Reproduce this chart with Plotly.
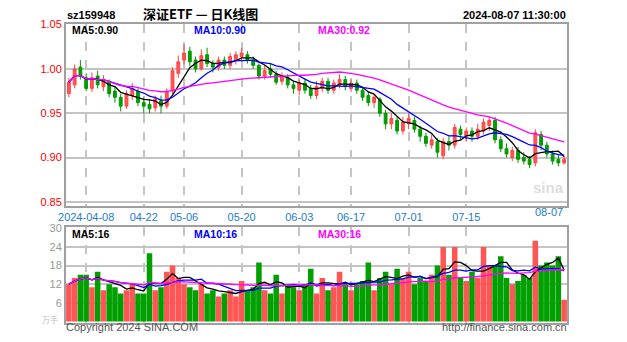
import plotly.graph_objects as go
import pandas as pd

dates = ["2024-04-01","2024-04-02","2024-04-03","2024-04-08","2024-04-09","2024-04-10","2024-04-11","2024-04-12",
         "2024-04-15","2024-04-16","2024-04-17","2024-04-18","2024-04-19","2024-04-22","2024-04-23","2024-04-24",
         "2024-04-25","2024-04-26","2024-04-29","2024-04-30","2024-05-06","2024-05-07","2024-05-08","2024-05-09",
         "2024-05-10","2024-05-13","2024-05-14","2024-05-15","2024-05-16","2024-05-17","2024-05-20","2024-05-21",
         "2024-05-22","2024-05-23","2024-05-24","2024-05-27","2024-05-28","2024-05-29","2024-05-30","2024-05-31",
         "2024-06-03","2024-06-04","2024-06-05","2024-06-06","2024-06-07","2024-06-11","2024-06-12","2024-06-13",
         "2024-06-14","2024-06-17","2024-06-18","2024-06-19","2024-06-20","2024-06-21","2024-06-24","2024-06-25",
         "2024-06-26","2024-06-27","2024-06-28","2024-07-01","2024-07-02","2024-07-03","2024-07-04","2024-07-05",
         "2024-07-08","2024-07-09","2024-07-10","2024-07-11","2024-07-12","2024-07-15","2024-07-16","2024-07-17",
         "2024-07-18","2024-07-19","2024-07-22","2024-07-23","2024-07-24","2024-07-25","2024-07-26","2024-07-29",
         "2024-07-30","2024-07-31","2024-08-01","2024-08-02","2024-08-05","2024-08-06","2024-08-07"]

opens = [0.972,0.982,1.002,0.990,0.978,0.992,0.980,0.985,0.975,0.968,0.958,0.970,0.975,0.962,0.960,0.956,
         0.964,0.958,0.975,0.995,1.010,1.020,1.010,1.000,1.016,1.006,1.002,1.010,1.004,1.010,1.014,1.016,
         1.010,1.004,0.992,1.000,0.994,0.986,0.990,0.982,0.976,0.984,0.978,0.970,0.978,0.986,0.976,0.982,
         0.988,0.978,0.984,0.976,0.970,0.962,0.966,0.950,0.938,0.942,0.930,0.938,0.942,0.932,0.924,0.914,
         0.918,0.902,0.918,0.914,0.932,0.924,0.930,0.924,0.930,0.936,0.942,0.920,0.910,0.900,0.908,0.900,
         0.898,0.894,0.926,0.914,0.904,0.898,0.894]
highs = [0.990,1.005,1.010,0.995,0.996,0.998,0.993,0.988,0.980,0.972,0.976,0.984,0.978,0.968,0.966,0.970,
         0.970,0.978,1.002,1.015,1.028,1.025,1.014,1.022,1.024,1.010,1.014,1.014,1.018,1.020,1.024,1.020,
         1.014,1.006,1.004,1.006,0.998,0.996,0.994,0.986,0.988,0.988,0.982,0.986,0.990,0.990,0.988,0.994,
         0.992,0.988,0.988,0.980,0.974,0.972,0.968,0.954,0.950,0.946,0.946,0.950,0.946,0.936,0.928,0.926,
         0.922,0.922,0.924,0.938,0.936,0.934,0.934,0.938,0.944,0.946,0.946,0.924,0.916,0.912,0.912,0.906,
         0.902,0.932,0.930,0.918,0.908,0.904,0.902]
lows = [0.968,0.978,0.988,0.975,0.974,0.978,0.975,0.968,0.962,0.952,0.955,0.965,0.958,0.950,0.950,0.952,
        0.950,0.955,0.972,0.990,1.005,1.003,0.996,0.998,1.002,0.996,0.998,1.000,1.000,1.005,1.010,1.006,
        1.000,0.988,0.988,0.990,0.982,0.982,0.978,0.972,0.970,0.972,0.966,0.966,0.974,0.972,0.972,0.978,
        0.976,0.974,0.972,0.964,0.958,0.956,0.946,0.932,0.932,0.926,0.926,0.932,0.928,0.918,0.912,0.910,
        0.900,0.898,0.908,0.910,0.920,0.918,0.918,0.920,0.926,0.930,0.916,0.906,0.900,0.896,0.894,0.892,
        0.888,0.890,0.908,0.900,0.892,0.890,0.892]
closes = [0.985,1.000,0.992,0.978,0.990,0.982,0.988,0.972,0.968,0.958,0.972,0.978,0.962,0.958,0.955,0.966,
          0.958,0.975,0.998,1.008,1.018,1.008,1.000,1.015,1.006,1.002,1.010,1.004,1.014,1.016,1.018,1.010,
          1.004,0.992,0.998,0.994,0.985,0.992,0.982,0.978,0.984,0.976,0.970,0.980,0.986,0.976,0.984,0.988,
          0.980,0.984,0.976,0.968,0.962,0.968,0.950,0.938,0.944,0.930,0.940,0.944,0.932,0.924,0.916,0.920,
          0.906,0.918,0.914,0.934,0.926,0.930,0.924,0.932,0.940,0.942,0.920,0.910,0.904,0.908,0.898,0.896,
          0.892,0.928,0.914,0.904,0.896,0.894,0.898]
volumes = [12,14,15,15,11,16,10,12,11,9,10,12,9,9,22,10,
           11,16,18,14,12,11,10,12,9,10,8,9,10,8,13,10,
           11,19,10,9,15,9,12,11,10,12,17,9,14,10,11,16,
           12,10,12,13,19,10,14,16,12,17,14,16,12,14,13,15,
           18,24,15,24,14,13,16,14,24,18,18,21,14,12,13,15,
           14,26,18,19,18,21,7]

tick_dates = ["2024-04-08","2024-04-22","2024-05-06","2024-05-20","2024-06-03","2024-06-17","2024-07-01","2024-07-15"]
tick_labels = ["2024-04-08","04-22","05-06","05-20","06-03","06-17","07-01","07-15"]
last_label = "08-07"
price_ticks = [0.85, 0.90, 0.95, 1.00, 1.05]
vol_ticks = [6, 12, 18, 24, 30]

RED = "#ff5555"
GREEN = "#00a000"

idx = list(range(len(dates)))
tick_idx = [dates.index(d) for d in tick_dates]
cs = pd.Series(closes)
vs = pd.Series(volumes)
ma = {n: cs.rolling(n, min_periods=1).mean() for n in (5, 10, 30)}
vma = {n: vs.rolling(n, min_periods=1).mean() for n in (5, 10, 30)}
bar_colors = [RED if c >= o else GREEN for o, c in zip(opens, closes)]

fig = go.Figure()
fig.add_trace(go.Candlestick(x=idx, open=opens, high=highs, low=lows, close=closes,
                             increasing=dict(line=dict(color="#ff4444", width=1), fillcolor=RED),
                             decreasing=dict(line=dict(color="#009900", width=1), fillcolor=GREEN),
                             whiskerwidth=0, xaxis="x", yaxis="y", hoverinfo="skip"))
ma_cols = {5: "black", 10: "#0000ff", 30: "#ff00ff"}
for n in (5, 10, 30):
    fig.add_trace(go.Scatter(x=idx, y=ma[n], mode="lines", line=dict(color=ma_cols[n], width=1.3),
                             xaxis="x", yaxis="y", hoverinfo="skip"))
fig.add_trace(go.Bar(x=idx, y=volumes, marker=dict(color=bar_colors, line=dict(width=0)),
                     xaxis="x2", yaxis="y2", hoverinfo="skip"))
for n in (5, 10, 30):
    fig.add_trace(go.Scatter(x=idx, y=vma[n], mode="lines", line=dict(color=ma_cols[n], width=1.3),
                             xaxis="x2", yaxis="y2", hoverinfo="skip"))

W, H = 627, 342
L, R = 66, 567
def px(x):
    return (x - L) / (R - L)
def py(y):
    return 1 - y / H

grid = "#c4c4c4"
border = "#a0a0a0"
common_x = dict(range=[-0.5, len(dates) - 0.5], tickvals=tick_idx, showgrid=True, gridcolor=grid,
                griddash="dash", gridwidth=2, zeroline=False, showline=True, mirror=True,
                linecolor=border, linewidth=2, ticks="")
fig.update_layout(
    width=W, height=H, margin=dict(l=L, r=W - R, t=0, b=0),
    plot_bgcolor="white", paper_bgcolor="white", showlegend=False, bargap=0.04,
    font=dict(family="Liberation Sans, Arial, sans-serif"),
    xaxis=dict(**common_x, anchor="y", ticktext=tick_labels, rangeslider=dict(visible=False),
               tickfont=dict(color="#1c7cc8", size=11)),
    xaxis2=dict(**common_x, anchor="y2", matches="x", showticklabels=False),
    yaxis=dict(domain=[py(205), py(19)], range=[0.85 - 4 / 905, 1.05 + 1 / 905], tickvals=price_ticks,
               tickformat=".2f", tickfont=dict(color="#ff0000", size=11), showgrid=True, gridcolor=grid,
               gridwidth=2, zeroline=False, showline=True, mirror=True, linecolor=border, linewidth=2, ticks=""),
    yaxis2=dict(domain=[py(325), py(227)], range=[-2 / 3.167, 96 / 3.167], tickvals=vol_ticks,
                tickfont=dict(color="#999999", size=11), showgrid=True, gridcolor=grid, gridwidth=2,
                zeroline=False, showline=True, mirror=True, linecolor=border, linewidth=2, ticks=""),
)

def ann(text, x, y, color="black", size=11, xanchor="left", bold=False, family=None):
    t = f"<b>{text}</b>" if bold else text
    d = dict(text=t, x=px(x), y=py(y), xref="paper", yref="paper", showarrow=False,
             xanchor=xanchor, yanchor="middle", font=dict(color=color, size=size))
    if family:
        d["font"]["family"] = family
    fig.add_annotation(**d)

ann("sz159948", 65, 10, bold=True)
ann("深证ETF — 日K线图", 200, 9, size=13, xanchor="center", bold=True, family="Noto Sans CJK SC")
ann("2024-08-07 11:30:00", 568, 10, xanchor="right", bold=True)
ann(f"MA5:{ma[5].iloc[-1]:.2f}", 70, 26, color="black", size=10.5, bold=True)
ann(f"MA10:{ma[10].iloc[-1]:.2f}", 192, 26, color="#0000ff", size=10.5, bold=True)
ann(f"MA30:{ma[30].iloc[-1]:.2f}", 316, 26, color="#ff00ff", size=10.5, bold=True)
ann("MA5:16", 70, 234, color="black", size=10.5, bold=True)
ann("MA10:16", 192, 234, color="#0000ff", size=10.5, bold=True)
ann("MA30:16", 316, 234, color="#ff00ff", size=10.5, bold=True)
ann(last_label, 565, 211, color="#1c7cc8", xanchor="right")
ann("sina", 566, 186, color="#dddddd", size=15, xanchor="right", bold=True)
ann("万手", 60, 321, color="#bbbbbb", size=8, xanchor="right", family="Noto Sans CJK SC")
ann("Copyright 2024 SINA.COM", 64, 329, color="#555555", size=11)
ann("http://finance.sina.com.cn", 569, 329, color="#555555", size=11, xanchor="right")

fig.write_html("out.html")
